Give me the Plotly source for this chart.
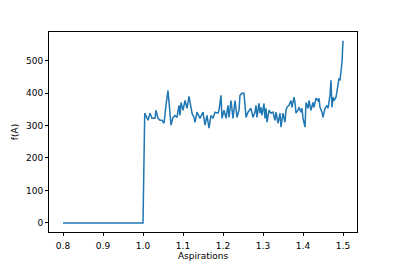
import plotly.graph_objects as go

# x positions (Aspirations) and f(A) values
x_vals = [0.8, 1.0, 1.0043, 1.0075, 1.0125, 1.0175, 1.0225, 1.03, 1.0325, 1.0375, 1.0425,
          1.0475, 1.0525, 1.0575, 1.0625, 1.07, 1.075, 1.08, 1.085, 1.09, 1.0925,
          1.095, 1.1, 1.105, 1.11, 1.115, 1.12, 1.1225, 1.1275, 1.13, 1.135,
          1.1425, 1.15, 1.155, 1.16, 1.165, 1.17, 1.175, 1.18, 1.1875, 1.19,
          1.195, 1.1975, 1.2025, 1.2075, 1.2125, 1.215, 1.22, 1.225, 1.23, 1.235,
          1.24, 1.2425, 1.2475, 1.2525, 1.2575, 1.2625, 1.27, 1.275, 1.28, 1.2825,
          1.285, 1.29, 1.2925, 1.295, 1.2975, 1.3025, 1.305, 1.3075, 1.31, 1.315,
          1.32, 1.325, 1.33, 1.3325, 1.3375, 1.3425, 1.345, 1.35, 1.355, 1.3575,
          1.36, 1.365, 1.37, 1.3725, 1.3775, 1.38, 1.3825, 1.3875, 1.39, 1.395,
          1.3975, 1.4, 1.405, 1.4075, 1.4125, 1.415, 1.42, 1.425, 1.4275, 1.4325,
          1.4375, 1.44, 1.4425, 1.4475, 1.45, 1.455, 1.46, 1.4625, 1.465, 1.4675,
          1.47, 1.4725, 1.475, 1.4775, 1.4825, 1.4875, 1.49, 1.4925, 1.495, 1.4975,
          1.5]
y_vals = [0, 0, 338, 331, 316, 338, 322, 322, 347, 322, 316,
          316, 307, 362, 408, 301, 325, 331, 325, 362, 331,
          371, 347, 377, 353, 390, 362, 338, 325, 310, 341,
          322, 341, 301, 331, 292, 331, 322, 341, 338, 347,
          393, 322, 347, 322, 362, 325, 377, 322, 377, 325,
          347, 393, 399, 399, 325, 341, 353, 325, 341, 362,
          325, 368, 338, 356, 331, 368, 322, 353, 310, 347,
          338, 341, 316, 341, 307, 338, 295, 338, 310, 347,
          356, 362, 377, 356, 387, 371, 338, 347, 356, 341,
          353, 322, 295, 371, 353, 377, 347, 371, 356, 384,
          377, 384, 356, 341, 325, 353, 362, 353, 371, 393,
          439, 356, 387, 377, 387, 429, 445, 439, 469, 494,
          561]

x_ticks = [0.8, 0.9, 1.0, 1.1, 1.2, 1.3, 1.4, 1.5]
y_ticks = [0, 100, 200, 300, 400, 500]

fig = go.Figure(go.Scatter(x=x_vals, y=y_vals, mode="lines",
                           line=dict(color="#1f77b4", width=1.5),
                           showlegend=False))

font = dict(family="DejaVu Sans", size=9, color="#000000")
axis_common = dict(showline=True, linecolor="#000000", linewidth=0.8, mirror=True,
                   ticks="outside", ticklen=3, tickwidth=0.8, tickcolor="#000000",
                   showgrid=False, zeroline=False, tickfont=font, automargin=False)

# the page body adds an 8px offset, so margins are shifted to compensate
fig.update_layout(
    width=399, height=266,
    margin=dict(l=41, r=50, t=24, b=42),
    paper_bgcolor="white", plot_bgcolor="white",
    font=font,
    xaxis=dict(range=[0.765, 1.535], tickvals=x_ticks,
               ticktext=[f"{v:.1f}" for v in x_ticks],
               ticklabelstandoff=2,
               title=dict(text="Aspirations", font=font, standoff=2),
               **axis_common),
    yaxis=dict(range=[-28, 588], tickvals=y_ticks,
               title=dict(text="f(A)", font=font, standoff=5),
               **axis_common),
)

fig.write_html("out.html")
